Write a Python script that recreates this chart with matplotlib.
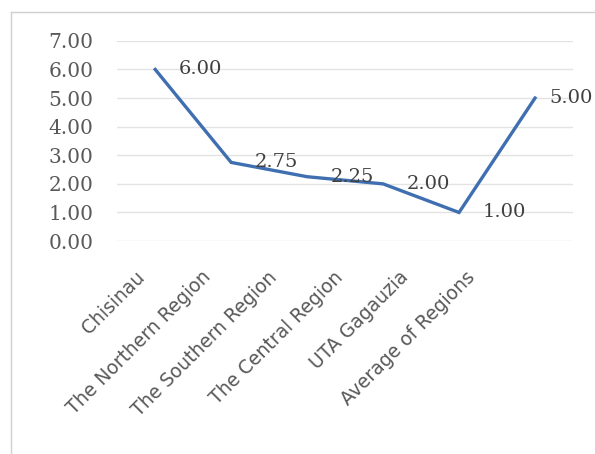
import numpy as np
import matplotlib.pyplot as plt
import matplotlib.transforms as mtransforms
from matplotlib.lines import Line2D

# donnees du graphique
regions = ["Chisinau", "The Northern Region", "The Southern Region",
           "The Central Region", "UTA Gagauzia", "Average of Regions"]
valeurs = [6.00, 2.75, 2.25, 2.00, 1.00, 5.00]
yticks = [0, 1, 2, 3, 4, 5, 6, 7]

fig = plt.figure(figsize=(5.95, 4.54), dpi=100)
ax = fig.add_axes([0.197, 0.469, 0.766, 0.441])

x = np.arange(len(regions))
ax.plot(x, valeurs, color="#3f6fb0", lw=2.4, solid_joinstyle="miter")

# etiquettes des valeurs (la derniere est collee au bord droit)
for xi, v in zip(x, valeurs):
    dec = 17 if xi < len(x) - 1 else 10
    ax.annotate("%.2f" % v, (xi, v), xytext=(dec, 0), textcoords="offset points",
                ha="left", va="center", fontsize=14, family="DejaVu Serif",
                color="#404040", annotation_clip=False)

ax.set_xlim(-0.5, len(regions) - 0.5)
ax.set_ylim(0, 7)
ax.set_yticks(yticks)
ax.set_yticklabels(["%.2f" % t for t in yticks], family="DejaVu Serif",
                   fontsize=14.5, color="#595959")
ax.set_xticks(x)
ax.set_xticklabels(regions, rotation=45, ha="right", rotation_mode="anchor",
                   fontsize=13.5, color="#595959")
ax.tick_params(length=0)
ax.tick_params(axis="x", pad=19)
ax.tick_params(axis="y", pad=17)
# les etiquettes de l'axe x sont un peu tassees vers la gauche (comme l'original)
for i, lab in enumerate(ax.get_xticklabels()):
    dx = -(20 + 10 * i) / 100.0
    lab.set_transform(lab.get_transform() + mtransforms.ScaledTranslation(dx, 0, fig.dpi_scale_trans))
ax.grid(axis="y", color="#e3e3e3", lw=1)
ax.set_axisbelow(True)
for s in ax.spines.values():
    s.set_visible(False)

# cadre du graphique
fig.add_artist(Line2D([11/595, 11/595], [0, 1 - 12/454], color="#d0d0d0", lw=1))
fig.add_artist(Line2D([11/595, 1], [1 - 12/454, 1 - 12/454], color="#d0d0d0", lw=1))

fig.savefig("out.png", dpi=100)
